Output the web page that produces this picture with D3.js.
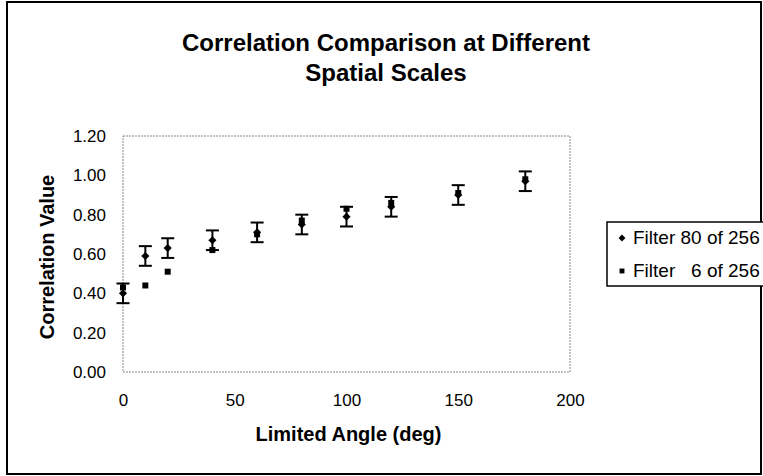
<!DOCTYPE html>
<html>
<head>
<meta charset="utf-8">
<script src="https://cdn.jsdelivr.net/npm/d3@7"></script>
<style>
  html, body { margin: 0; padding: 0; background: #fff; }
  svg { display: block; font-family: Arial, "Liberation Sans", sans-serif; }
</style>
</head>
<body>
<svg id="chart" width="763" height="476"></svg>
<script>
// ---- data ----
const angles = [0, 10, 20, 40, 60, 80, 100, 120, 150, 180];
const filter80 = [0.40, 0.59, 0.63, 0.67, 0.71, 0.75, 0.79, 0.84, 0.90, 0.97];
const filter80Err = [0.05, 0.05, 0.05, 0.05, 0.05, 0.05, 0.05, 0.05, 0.05, 0.05];
const filter6 = [0.43, 0.44, 0.51, 0.62, 0.70, 0.77, 0.83, 0.86, 0.91, 0.98];
const xTicks = [0, 50, 100, 150, 200];
const yTicks = [0, 0.2, 0.4, 0.6, 0.8, 1.0, 1.2];
const titleLines = ["Correlation Comparison at Different", "Spatial Scales"];
const seriesNames = ["Filter 80 of 256", "Filter   6 of 256"];

const svg = d3.select("#chart");
const W = 763, H = 476;
const FONT = "Arial, 'Liberation Sans', sans-serif";

// outer border
svg.append("rect").attr("x", 7).attr("y", 2).attr("width", W - 9).attr("height", H - 4)
  .attr("fill", "none").attr("stroke", "#000").attr("stroke-width", 2);

const plot = { left: 123, right: 570, top: 136, bottom: 372 };
const x = d3.scaleLinear().domain([0, 200]).range([plot.left, plot.right]);
const y = d3.scaleLinear().domain([0, 1.2]).range([plot.bottom, plot.top]);

// title
svg.append("text")
  .attr("text-anchor", "middle").attr("font-weight", "bold").attr("font-size", 24)
  .selectAll("tspan").data(titleLines).join("tspan")
  .attr("x", 386).attr("y", (d, i) => 51 + i * 30).text(d => d);

// plot area border (dotted)
svg.append("rect").attr("x", plot.left).attr("y", plot.top)
  .attr("width", plot.right - plot.left).attr("height", plot.bottom - plot.top)
  .attr("fill", "none").attr("stroke", "#888").attr("stroke-width", 1)
  .attr("stroke-dasharray", "2,1");

// axes
const xAxis = svg.append("g").attr("transform", `translate(0,${plot.bottom})`)
  .call(d3.axisBottom(x).tickValues(xTicks).tickSize(0).tickPadding(22).tickFormat(d3.format("d")));
xAxis.select(".domain").remove();
xAxis.selectAll("text").attr("font-size", 17).attr("fill", "#000").attr("font-family", FONT);

const yAxis = svg.append("g").attr("transform", `translate(${plot.left},0)`)
  .call(d3.axisLeft(y).tickValues(yTicks).tickSize(0).tickPadding(17).tickFormat(d3.format(".2f")));
yAxis.select(".domain").remove();
yAxis.selectAll("text").attr("font-size", 17).attr("fill", "#000").attr("font-family", FONT);

// axis titles
svg.append("text").attr("x", (plot.left + plot.right) / 2 + 2).attr("y", 441)
  .attr("text-anchor", "middle").attr("font-weight", "bold").attr("font-size", 20)
  .text("Limited Angle (deg)");
svg.append("text").attr("transform", `translate(54,${(plot.top + plot.bottom) / 2 + 3}) rotate(-90)`)
  .attr("text-anchor", "middle").attr("font-weight", "bold").attr("font-size", 20)
  .text("Correlation Value");

const data80 = angles.map((a, i) => ({ a, v: filter80[i], e: filter80Err[i] }));
const data6 = angles.map((a, i) => ({ a, v: filter6[i] }));

// error bars
const eb = svg.append("g").attr("stroke", "#000").attr("stroke-width", 2);
eb.selectAll("line.v").data(data80).join("line").attr("class", "v")
  .attr("x1", d => x(d.a)).attr("x2", d => x(d.a))
  .attr("y1", d => y(d.v - d.e)).attr("y2", d => y(d.v + d.e));
eb.selectAll("line.t").data(data80).join("line").attr("class", "t")
  .attr("x1", d => x(d.a) - 6.5).attr("x2", d => x(d.a) + 6.5)
  .attr("y1", d => y(d.v + d.e)).attr("y2", d => y(d.v + d.e));
eb.selectAll("line.b").data(data80).join("line").attr("class", "b")
  .attr("x1", d => x(d.a) - 6.5).attr("x2", d => x(d.a) + 6.5)
  .attr("y1", d => y(d.v - d.e)).attr("y2", d => y(d.v - d.e));

// markers
const diamond = d3.symbol().type(d3.symbolDiamond2).size(42);
const square = d3.symbol().type(d3.symbolSquare).size(36);
svg.append("g").selectAll("path").data(data6).join("path")
  .attr("d", square).attr("transform", d => `translate(${x(d.a)},${y(d.v)})`).attr("fill", "#000");
svg.append("g").selectAll("path").data(data80).join("path")
  .attr("d", diamond).attr("transform", d => `translate(${x(d.a)},${y(d.v)})`).attr("fill", "#000");

// legend
const lg = svg.append("g");
lg.append("rect").attr("x", 607).attr("y", 222).attr("width", 160).attr("height", 64)
  .attr("fill", "#fff").attr("stroke", "#000").attr("stroke-width", 1.5);
const items = lg.selectAll("g.item").data(seriesNames).join("g").attr("class", "item")
  .attr("transform", (d, i) => `translate(622,${238 + i * 33})`);
items.append("path").attr("d", (d, i) => i === 0 ? d3.symbol().type(d3.symbolDiamond2).size(30)() : d3.symbol().type(d3.symbolSquare).size(24)())
  .attr("fill", "#000");
items.append("text").attr("x", 11).attr("y", 6).attr("font-size", 19)
  .attr("xml:space", "preserve").style("white-space", "pre").text(d => d);
</script>
</body>
</html>
